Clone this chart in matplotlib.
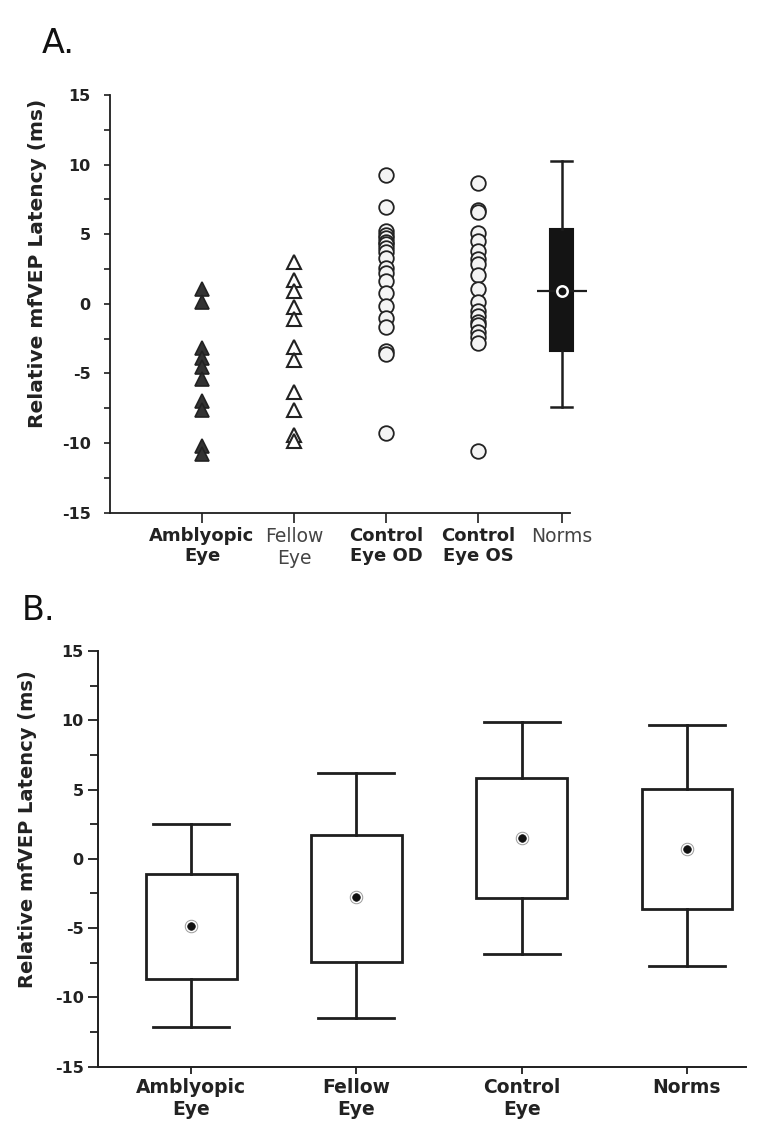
import matplotlib
matplotlib.use("Agg")
import matplotlib.pyplot as plt
from matplotlib.ticker import MultipleLocator

# ---------------- Panel A data ----------------
cats_a = ["Amblyopic\nEye", "Fellow\nEye", "Control\nEye OD", "Control\nEye OS", "Norms"]
bold_a = [True, False, True, True, False]
amblyopic_a = [1.1, 0.1, -3.2, -3.9, -4.5, -5.4, -7.0, -7.6, -10.2, -10.8]
fellow_a = [3.0, 1.7, 0.95, -0.2, -1.1, -3.1, -4.05, -6.3, -7.6, -9.4, -9.85]
control_od_a = [9.25, 6.95, 5.2, 4.95, 4.7, 4.45, 4.3, 4.0, 3.7, 3.3, 2.6, 2.25,
                1.65, 0.8, -0.15, -1.0, -1.65, -3.4, -3.6, -9.25]
control_os_a = [8.7, 6.75, 6.6, 5.1, 4.5, 3.8, 3.2, 2.85, 2.1, 1.05, 0.1, -0.5,
                -0.9, -1.3, -1.5, -2.0, -2.4, -2.8, -10.6]
norms_a_whishi = 10.25
norms_a_q3 = 5.4
norms_a_center = 0.95
norms_a_q1 = -3.4
norms_a_whislo = -7.4

# ---------------- Panel B data ----------------
cats_b = ["Amblyopic\nEye", "Fellow\nEye", "Control\nEye", "Norms"]
b_whishi = [2.5, 6.2, 9.9, 9.65]
b_q3 = [-1.1, 1.75, 5.85, 5.05]
b_center = [-4.85, -2.75, 1.5, 0.7]
b_q1 = [-8.7, -7.45, -2.8, -3.6]
b_whislo = [-12.1, -11.5, -6.9, -7.7]

ylabel = "Relative mfVEP Latency (ms)"
yticks = [-15, -10, -5, 0, 5, 10, 15]

INK = "#1e1e1e"
plt.rcParams["font.family"] = ["DejaVu Sans"]
plt.rcParams["axes.unicode_minus"] = False

fig = plt.figure(figsize=(7.7, 11.34), dpi=100)

# ======================= Panel A =======================
axA = fig.add_axes([110 / 770, 1 - 512.7 / 1134, 460 / 770, 417.7 / 1134])
pos_a = [1, 2, 3, 4, 4.91]

axA.plot([pos_a[0]] * len(amblyopic_a), amblyopic_a, linestyle="none", marker="^",
         ms=10, mfc="#333333", mec="#222222", mew=1.2, zorder=3)
axA.plot([pos_a[1]] * len(fellow_a), fellow_a, linestyle="none", marker="^",
         ms=10, mfc="white", mec="#222222", mew=1.5, zorder=3)
axA.plot([pos_a[2]] * len(control_od_a), control_od_a, linestyle="none", marker="o",
         ms=10.5, mfc="#f4f4f4", mec="#222222", mew=1.3, zorder=3)
axA.plot([pos_a[3]] * len(control_os_a), control_os_a, linestyle="none", marker="o",
         ms=10.5, mfc="#f4f4f4", mec="#222222", mew=1.3, zorder=3)

stats_norm = [dict(med=norms_a_center, q1=norms_a_q1, q3=norms_a_q3,
                   whislo=norms_a_whislo, whishi=norms_a_whishi, fliers=[])]
art = axA.bxp(stats_norm, positions=[pos_a[4]], widths=0.25, patch_artist=True,
              showfliers=False,
              boxprops=dict(facecolor="#141414", edgecolor="#141414", linewidth=1.5),
              whiskerprops=dict(color=INK, linewidth=1.8),
              capprops=dict(color=INK, linewidth=1.8),
              medianprops=dict(visible=False), capwidths=0.23, manage_ticks=False)
for k in ("boxes", "whiskers", "caps"):
    for a in art[k]:
        a.set_clip_on(False)
axA.hlines(norms_a_center, pos_a[4] - 0.27, pos_a[4] + 0.27, color=INK, lw=1.6,
           zorder=2, clip_on=False)
axA.plot([pos_a[4]], [norms_a_center], marker="o", ms=7.5, mfc="#141414", mec="white",
         mew=1.8, zorder=4, clip_on=False)

axA.set_xlim(0, 5.0)
axA.set_ylim(-15, 15)
axA.set_yticks(yticks)
axA.yaxis.set_minor_locator(MultipleLocator(2.5))
axA.set_xticks(pos_a)
axA.set_xticklabels(cats_a)
for lab, b in zip(axA.get_xticklabels(), bold_a):
    if b:
        lab.set_fontweight("bold")
        lab.set_fontsize(13)
        lab.set_color("#222222")
    else:
        lab.set_fontweight("normal")
        lab.set_fontsize(13.5)
        lab.set_color("#444444")
axA.tick_params(axis="y", which="major", direction="out", length=4, width=1.2,
                color=INK, labelsize=11.5, pad=10)
axA.tick_params(axis="y", which="minor", direction="out", length=4, width=1.2, color=INK)
axA.tick_params(axis="x", which="major", direction="out", length=7, width=1.2,
                color=INK, pad=3)
for lab in axA.get_yticklabels():
    lab.set_fontweight("bold")
    lab.set_color("#222222")
for s in ["top", "right"]:
    axA.spines[s].set_visible(False)
for s in ["left", "bottom"]:
    axA.spines[s].set_linewidth(1.3)
    axA.spines[s].set_color(INK)
axA.set_ylabel(ylabel, fontsize=14.5, fontweight="bold", color="#222222")
axA.yaxis.set_label_coords(-0.137, 0.598)

# ======================= Panel B =======================
axB = fig.add_axes([98.3 / 770, 1 - 1066.7 / 1134, 647.7 / 770, 415.7 / 1134])
pos_b = [1, 2, 3, 4]
stats_b = [dict(med=c, q1=l, q3=h, whislo=wl, whishi=wh, fliers=[])
           for c, l, h, wl, wh in zip(b_center, b_q1, b_q3, b_whislo, b_whishi)]
axB.bxp(stats_b, positions=pos_b, widths=0.55, patch_artist=True, showfliers=False,
        boxprops=dict(facecolor="white", edgecolor=INK, linewidth=2.0),
        whiskerprops=dict(color=INK, linewidth=2.0),
        capprops=dict(color=INK, linewidth=2.0),
        medianprops=dict(visible=False), capwidths=0.46, manage_ticks=False)
axB.plot(pos_b, b_center, linestyle="none", marker="o", ms=9, mfc="white",
         mec="#9a9a9a", mew=0.7, zorder=4)
axB.plot(pos_b, b_center, linestyle="none", marker="o", ms=5.5, mfc="#111111",
         mec="#111111", mew=0.5, zorder=5)

axB.set_xlim(0.439, 4.357)
axB.set_ylim(-15, 15)
axB.set_yticks(yticks)
axB.yaxis.set_minor_locator(MultipleLocator(2.5))
axB.set_xticks(pos_b)
axB.set_xticklabels(cats_b, fontsize=13.5, fontweight="bold", color="#222222")
axB.tick_params(axis="y", which="major", direction="out", length=7, width=1.3,
                color=INK, labelsize=11.5, pad=3.5)
axB.tick_params(axis="y", which="minor", direction="out", length=6, width=1.3, color=INK)
axB.tick_params(axis="x", which="major", direction="out", length=5, width=1.3,
                color=INK, pad=3)
for lab in axB.get_yticklabels():
    lab.set_fontweight("bold")
    lab.set_color("#222222")
for s in ["top", "right"]:
    axB.spines[s].set_visible(False)
for s in ["left", "bottom"]:
    axB.spines[s].set_linewidth(1.4)
    axB.spines[s].set_color(INK)
axB.set_ylabel(ylabel, fontsize=14, fontweight="bold", color="#222222")
axB.yaxis.set_label_coords(-0.0946, 0.571)

# Panel letters
fig.text(42 / 770, 1 - 53 / 1134, "A.", fontsize=24, color="#111111", va="baseline", ha="left")
fig.text(22 / 770, 1 - 620 / 1134, "B.", fontsize=24, color="#111111", va="baseline", ha="left")

fig.savefig("out.png", dpi=100)
